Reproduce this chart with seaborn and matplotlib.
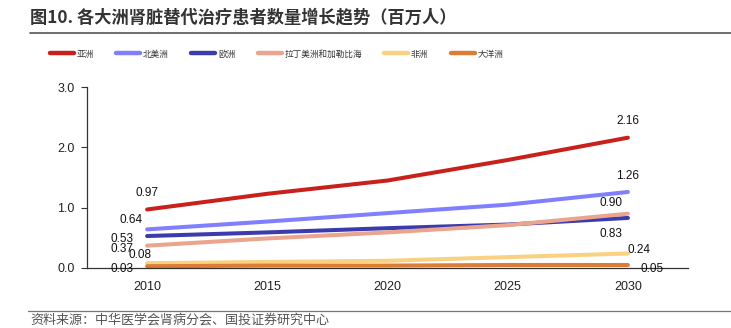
import numpy as np
import pandas as pd
import matplotlib
matplotlib.use("Agg")
import matplotlib.pyplot as plt
import seaborn as sns
from matplotlib.lines import Line2D

# ---------------- data ----------------
years = ["2010", "2015", "2020", "2025", "2030"]
regions = ["亚洲", "北美洲", "欧洲", "拉丁美洲和加勒比海", "非洲", "大洋洲"]
asia = [0.97, 1.23, 1.45, 1.79, 2.16]
north_america = [0.64, 0.77, 0.91, 1.05, 1.26]
europe = [0.53, 0.59, 0.66, 0.72, 0.83]
latin_america = [0.37, 0.49, 0.59, 0.71, 0.90]
africa = [0.08, 0.10, 0.12, 0.18, 0.24]
oceania = [0.03, 0.04, 0.04, 0.05, 0.05]
series = [asia, north_america, europe, latin_america, africa, oceania]
colors = ["#C8211C", "#7F7FFF", "#3B3BAE", "#EBA48D", "#FAD181", "#DD7D35"]

title = "图10. 各大洲肾脏替代治疗患者数量增长趋势（百万人）"
source = "资料来源：中华医学会肾病分会、国投证券研究中心"

df = pd.DataFrame(
    [(y, r, v) for r, vals in zip(regions, series) for y, v in zip(years, vals)],
    columns=["year", "region", "value"],
)

# ---------------- style ----------------
sns.set_theme(style="white")
plt.rcParams["font.family"] = ["Liberation Sans", "Noto Sans CJK SC", "DejaVu Sans"]
cjk = ["Noto Sans CJK SC", "DejaVu Sans"]

fig = plt.figure(figsize=(7.31, 3.28), dpi=100)
ax = fig.add_axes([87 / 731, 1 - 268 / 328, (688 - 87) / 731, (268 - 87) / 328])

sns.lineplot(data=df, x="year", y="value", hue="region", hue_order=regions,
             palette=colors, linewidth=2.9, ax=ax, legend=False, sort=False)

ax.set_xlim(-0.5, 4.5)
ax.set_ylim(0, 3.0)
ax.set_yticks([0, 1, 2, 3])
ax.set_yticklabels(["0.0", "1.0", "2.0", "3.0"], fontsize=9, color="#222222")
ax.set_xticks(range(len(years)))
ax.set_xticklabels(years, fontsize=9, color="#222222")
ax.tick_params(axis="x", which="major", length=0, pad=9)
ax.set_xticks(np.arange(-0.5, 5.0, 1.0), minor=True)
ax.tick_params(axis="x", which="minor", direction="in", length=3, width=0.8, color="#333333")
ax.tick_params(axis="y", which="major", direction="out", length=4, width=0.8,
               color="#333333", pad=5, left=True)
ax.set_xlabel("")
ax.set_ylabel("")
for s in ["top", "right"]:
    ax.spines[s].set_visible(False)
for s in ["left", "bottom"]:
    ax.spines[s].set_color("#333333")
    ax.spines[s].set_linewidth(0.9)

# ---------------- data labels ----------------
start_offsets = [(0, 16), (-16, 9), (-25, -3), (-25, -3), (-7, 8), (-25, -3)]
end_offsets = [(0, 17), (0, 16), (-17, -16), (-17, 11), (11, 4), (24, -4)]
for vals, so, eo in zip(series, start_offsets, end_offsets):
    ax.annotate(f"{vals[0]:.2f}", (0, vals[0]), xytext=so, textcoords="offset pixels",
                ha="center", va="center", fontsize=8.5, color="#111111")
    ax.annotate(f"{vals[-1]:.2f}", (4, vals[-1]), xytext=eo, textcoords="offset pixels",
                ha="center", va="center", fontsize=8.5, color="#111111")

# ---------------- legend ----------------
handles = [Line2D([0], [0], color=c, linewidth=3.2, solid_capstyle="round") for c in colors]
leg = fig.legend(handles, regions, loc="center left", bbox_to_anchor=(50 / 731, 1 - 54 / 328),
                 ncol=6, frameon=False, prop={"family": cjk, "size": 6.2},
                 handlelength=2.8, handletextpad=0.3, columnspacing=2.6,
                 borderpad=0, borderaxespad=0)
for t in leg.get_texts():
    t.set_color("#333333")

# ---------------- title & source ----------------
fig.text(30 / 731, 1 - 17 / 328, title, fontsize=12.4, fontweight="bold",
         family=cjk, color="#333333", ha="left", va="center")
fig.add_artist(Line2D([30 / 731, 1.0], [1 - 33 / 328, 1 - 33 / 328],
                      color="#555555", linewidth=1.2, transform=fig.transFigure))
fig.add_artist(Line2D([28 / 731, 1.0], [1 - 311 / 328, 1 - 311 / 328],
                      color="#777777", linewidth=0.9, transform=fig.transFigure))
fig.text(30 / 731, 1 - 320 / 328, source, fontsize=9.4, family=cjk, style="italic",
         color="#555555", ha="left", va="center")

fig.savefig("out.png", dpi=100)
